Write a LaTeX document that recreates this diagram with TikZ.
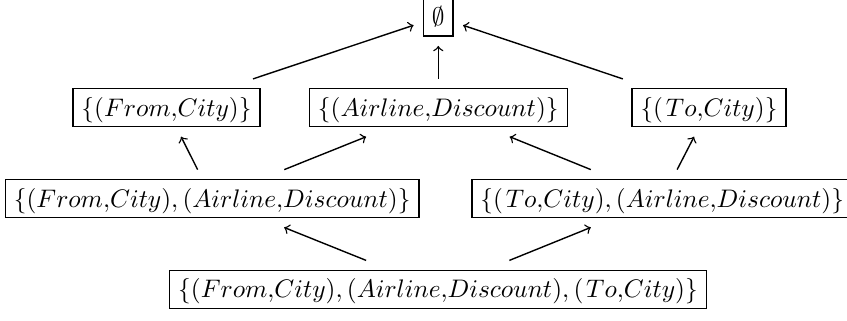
\documentclass[tikz,border=0pt]{standalone}
\begin{document}
\begin{tikzpicture}[x=0.3937pt,y=-0.3937pt,
  box/.style={draw, line width=0.5pt, outer sep=3.9pt, inner sep=3.333pt,
    text height=7.5pt, text depth=0.8pt},
  arr/.style={->, line width=0.55pt}]
\useasboundingbox (0,0) rectangle (847,320);
\node[box] (e) at (438.3,17) {$\emptyset$};
\node[box] (fc) at (166.5,107.8) {$\{(From{,}City)\}$};
\node[box] (ad) at (438.3,107.8) {$\{(Airline{,}Discount)\}$};
\node[box] (tc) at (709,107.8) {$\{(\mkern2mu To{,}City)\}$};
\node[box] (fcad) at (212.2,198.5) {$\{(From{,}City),(Airline{,}Discount)\}$};
\node[box] (tcad) at (662.2,198.5) {$\{(\mkern2mu To{,}City),(Airline{,}Discount)\}$};
\node[box] (all) at (438,289.3) {$\{(From{,}City),(Airline{,}Discount),(\mkern2mu To{,}City)\}$};
\draw[arr] (fc) -- (e);
\draw[arr] (ad) -- (e);
\draw[arr] (tc) -- (e);
\draw[arr] (fcad) -- (fc);
\draw[arr] (fcad) -- (ad);
\draw[arr] (tcad) -- (ad);
\draw[arr] (tcad) -- (tc);
\draw[arr] (all) -- (fcad);
\draw[arr] (all) -- (tcad);
\end{tikzpicture}
\end{document}
